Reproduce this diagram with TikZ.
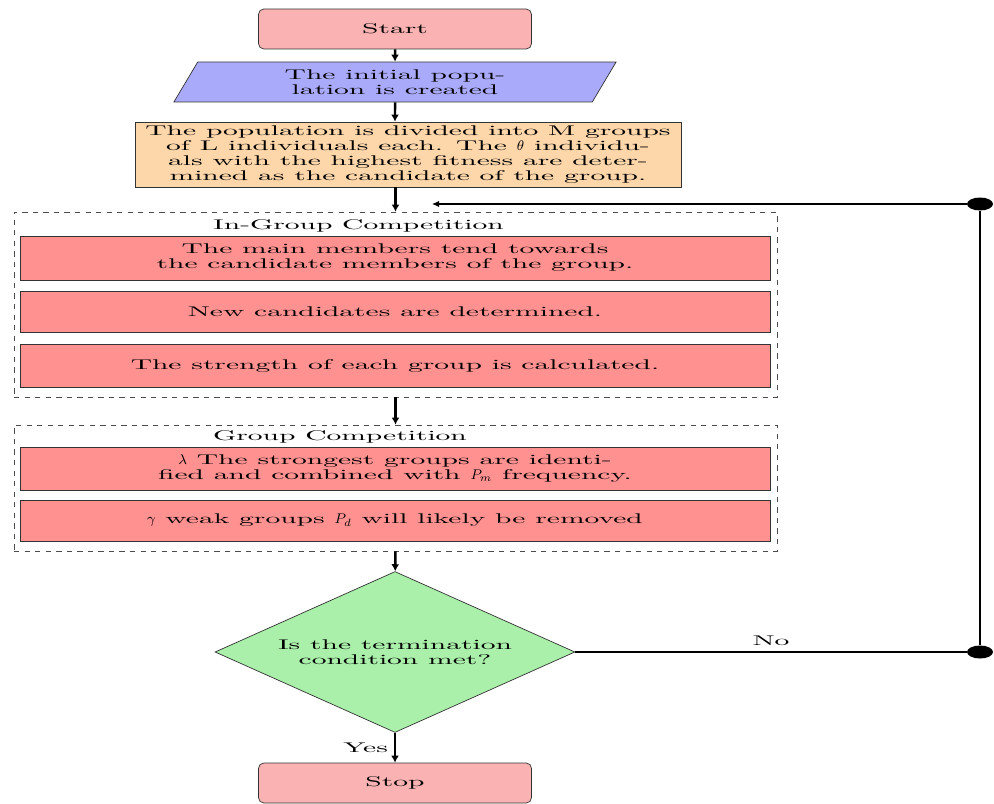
\documentclass[tikz,border=0pt]{standalone}
\usepackage{fontspec}
\usepackage{amsmath, amssymb}
\usetikzlibrary{arrows.meta}
\usetikzlibrary{shapes}

\setmainfont{lmroman10-regular}[Extension=.otf, FakeStretch=2.1]
\definecolor{startpink}{RGB}{250,178,178}
\definecolor{iolilac}{RGB}{170,170,250}
\definecolor{initorange}{RGB}{253,214,170}
\definecolor{taskred}{RGB}{255,145,145}
\definecolor{decgreen}{RGB}{170,240,170}
\newcommand{\widetext}{\fontsize{8}{8.6}\selectfont}

\begin{document}
\begin{tikzpicture}[x=0.02cm, y=-0.02cm, font=\widetext,
        start_style/.style={rectangle,rounded corners=3pt,draw=black!80,fill=startpink,minimum width=5.46cm,minimum height=0.8cm},
        io_style/.style={trapezium,trapezium left angle=62,trapezium right angle=118,trapezium stretches=true,draw=black!80,fill=iolilac,minimum width=8.86cm,minimum height=0.8cm,align=center,inner sep=0pt},
        init_style/.style={rectangle,draw=black!80,fill=initorange,minimum width=10.92cm,minimum height=1.3cm,align=center,inner sep=1pt},
        task_style/.style={rectangle,draw=black!80,fill=taskred,minimum width=15cm,align=center,inner sep=1pt},
        group_style/.style={rectangle,draw=black!70,dashed,minimum width=15.26cm},
        decision_style/.style={diamond,aspect=2.24,draw=black!80,fill=decgreen,minimum width=7.2cm,minimum height=3.22cm,align=center,inner sep=0pt},
        dot_style/.style={ellipse,fill=black,minimum width=0.52cm,minimum height=0.26cm,inner sep=0pt},
        edge_style/.style={draw=black, line width=1.4pt,-{Latex[length=4pt,width=4.5pt]}},
        loop_style/.style={draw=black, line width=0.6pt}]

        \useasboundingbox (0,0) rectangle (994,804);

        \node [start_style](n1) at (395,29) {Start};
        \node [io_style](n2) at (395,82) {The initial popu-\\lation is created};
        \node [init_style](n3) at (408,154.5) {The population is divided into M groups\\of L individuals each. The $\theta$ individu-\\als with the highest fitness are deter-\\mined as the candidate of the group.};

        % in-group competition
        \node [group_style, minimum height=3.7cm](g1) at (395.5,304.5) {};
        \node [anchor=west](l1) at (207,226) {In-Group Competition};
        \node [task_style, minimum height=0.88cm](n4) at (395,258) {The main members tend towards\\the candidate members of the group.};
        \node [task_style, minimum height=0.82cm](n5) at (395,311.5) {New candidates are determined.};
        \node [task_style, minimum height=0.86cm](n6) at (395,365.5) {The strength of each group is calculated.};

        % group competition
        \node [group_style, minimum height=2.52cm](g2) at (395.5,488) {};
        \node [anchor=west](l2) at (207,437) {Group Competition};
        \node [task_style, minimum height=0.86cm](n7) at (395,468.5) {$\lambda$ The strongest groups are identi-\\fied and combined with $P_m$ frequency.};
        \node [task_style, minimum height=0.82cm](n8) at (395,520.5) {$\gamma$ weak groups $P_d$ will likely be removed};

        \node [decision_style](n9) at (395,652) {Is the termination\\condition met?};
        \node [start_style](n10) at (395,783) {Stop};
        \node [dot_style](d1) at (980,204) {};
        \node [dot_style](d2) at (980,652) {};
        \coordinate (c1) at (432,204);

        \draw [edge_style] (n1) edge (n2);
        \draw [edge_style] (n2.south) -- (n2 |- n3.north);
        \draw [edge_style] (n3.south -| g1.north) -- (g1.north);
        \draw [edge_style] (g1) edge (g2);
        \draw [edge_style] (g2) edge (n9);
        \draw [edge_style] (n9) edge node[left]{Yes} (n10);
        \draw [loop_style] (n9) -- node[above]{No} (d2);
        \draw [loop_style, line width=1pt] (d2) -- (d1);
        \draw [loop_style,-{Latex[length=4pt,width=3.5pt]}] (d1) -- (c1);
\end{tikzpicture}
\end{document}
